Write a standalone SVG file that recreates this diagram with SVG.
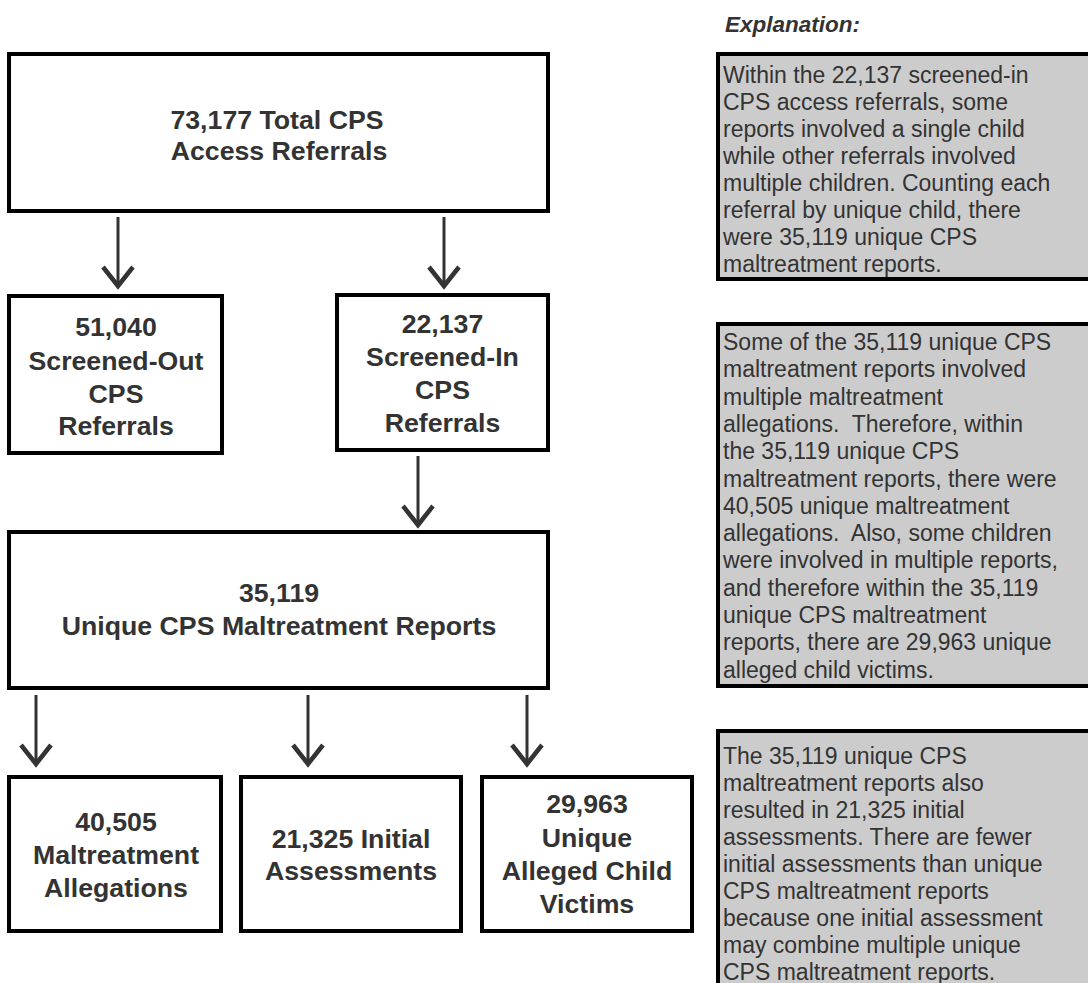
<svg xmlns="http://www.w3.org/2000/svg" width="1088" height="983" viewBox="0 0 1088 983">
<style>
.box{fill:#fff;stroke:#000;stroke-width:4}
.panel{fill:#cccccc;stroke:#000;stroke-width:4}
.nt{font-family:"Liberation Sans",Arial,sans-serif;font-weight:bold;font-size:26.7px;fill:#333;text-anchor:middle}
.pt{font-family:"Liberation Sans",Arial,sans-serif;font-size:23px;fill:#333}
.hd{font-family:"Liberation Sans",Arial,sans-serif;font-size:22.5px;font-weight:bold;font-style:italic;fill:#333}
.arr{stroke:#333;stroke-width:3;fill:none;marker-end:url(#chev)}
</style>
<defs>
<marker id="chev" markerUnits="userSpaceOnUse" viewBox="-26 -18 32 36" refX="0" refY="0" markerWidth="32" markerHeight="36" orient="auto">
<path d="M-19,-15 L0,0 L-19,15" fill="none" stroke="#333" stroke-width="4.5" stroke-linejoin="miter"/>
</marker>
</defs>
<g id="connectors">
<line class="arr" x1="118" y1="217" x2="118" y2="286"/>
<line class="arr" x1="444" y1="217" x2="444" y2="286"/>
<line class="arr" x1="418" y1="456" x2="418" y2="525"/>
<line class="arr" x1="36" y1="695" x2="36" y2="764"/>
<line class="arr" x1="308" y1="695" x2="308" y2="764"/>
<line class="arr" x1="527" y1="695" x2="527" y2="764"/>
</g>
<g id="total">
<rect class="box" x="9" y="54" width="539" height="157"/>
<text class="nt" x="277" y="129">73,177 Total CPS</text>
<text class="nt" x="279" y="160">Access Referrals</text>
</g>
<g id="screened-out">
<rect class="box" x="9" y="296" width="213" height="157"/>
<text class="nt" x="116" y="336">51,040</text>
<text class="nt" x="116" y="370">Screened-Out</text>
<text class="nt" x="116" y="403">CPS</text>
<text class="nt" x="116" y="435">Referrals</text>
</g>
<g id="screened-in">
<rect class="box" x="337" y="295" width="211" height="155"/>
<text class="nt" x="442.5" y="333">22,137</text>
<text class="nt" x="442.5" y="366">Screened-In</text>
<text class="nt" x="442.5" y="399">CPS</text>
<text class="nt" x="442.5" y="432">Referrals</text>
</g>
<g id="unique-reports">
<rect class="box" x="9" y="532" width="539" height="156"/>
<text class="nt" x="279" y="602">35,119</text>
<text class="nt" x="279" y="635">Unique CPS Maltreatment Reports</text>
</g>
<g id="allegations">
<rect class="box" x="9" y="777" width="212" height="154"/>
<text class="nt" x="116" y="831">40,505</text>
<text class="nt" x="116" y="864">Maltreatment</text>
<text class="nt" x="116" y="897">Allegations</text>
</g>
<g id="assessments">
<rect class="box" x="241" y="777" width="220" height="154"/>
<text class="nt" x="351" y="848">21,325 Initial</text>
<text class="nt" x="351" y="880">Assessments</text>
</g>
<g id="victims">
<rect class="box" x="482" y="777" width="210" height="154"/>
<text class="nt" x="587" y="813">29,963</text>
<text class="nt" x="587" y="847">Unique</text>
<text class="nt" x="587" y="880">Alleged Child</text>
<text class="nt" x="587" y="913">Victims</text>
</g>
<g id="explanation">
<text class="hd" x="725" y="32">Explanation:</text>
</g>
<g id="panel1">
<rect class="panel" x="718" y="54" width="400" height="225"/>
<text class="pt" x="723" y="83">Within the 22,137 screened-in</text>
<text class="pt" x="723" y="110">CPS access referrals, some</text>
<text class="pt" x="723" y="137">reports involved a single child</text>
<text class="pt" x="723" y="164">while other referrals involved</text>
<text class="pt" x="723" y="191">multiple children. Counting each</text>
<text class="pt" x="723" y="218">referral by unique child, there</text>
<text class="pt" x="723" y="245">were 35,119 unique CPS</text>
<text class="pt" x="723" y="272">maltreatment reports.</text>
</g>
<g id="panel2">
<rect class="panel" x="718" y="324" width="400" height="362"/>
<text class="pt" x="723" y="350">Some of the 35,119 unique CPS</text>
<text class="pt" x="723" y="377.3">maltreatment reports involved</text>
<text class="pt" x="723" y="404.6">multiple maltreatment</text>
<text class="pt" x="723" y="431.9" xml:space="preserve">allegations.  Therefore, within</text>
<text class="pt" x="723" y="459.2">the 35,119 unique CPS</text>
<text class="pt" x="723" y="486.5">maltreatment reports, there were</text>
<text class="pt" x="723" y="513.8">40,505 unique maltreatment</text>
<text class="pt" x="723" y="541.1" xml:space="preserve">allegations.  Also, some children</text>
<text class="pt" x="723" y="568.4">were involved in multiple reports,</text>
<text class="pt" x="723" y="595.7">and therefore within the 35,119</text>
<text class="pt" x="723" y="623">unique CPS maltreatment</text>
<text class="pt" x="723" y="650.3">reports, there are 29,963 unique</text>
<text class="pt" x="723" y="677.6">alleged child victims.</text>
</g>
<g id="panel3">
<rect class="panel" x="718" y="731" width="400" height="300"/>
<text class="pt" x="723" y="764">The 35,119 unique CPS</text>
<text class="pt" x="723" y="791">maltreatment reports also</text>
<text class="pt" x="723" y="818">resulted in 21,325 initial</text>
<text class="pt" x="723" y="845">assessments. There are fewer</text>
<text class="pt" x="723" y="872">initial assessments than unique</text>
<text class="pt" x="723" y="899">CPS maltreatment reports</text>
<text class="pt" x="723" y="926">because one initial assessment</text>
<text class="pt" x="723" y="953">may combine multiple unique</text>
<text class="pt" x="723" y="980">CPS maltreatment reports.</text>
</g>
</svg>
